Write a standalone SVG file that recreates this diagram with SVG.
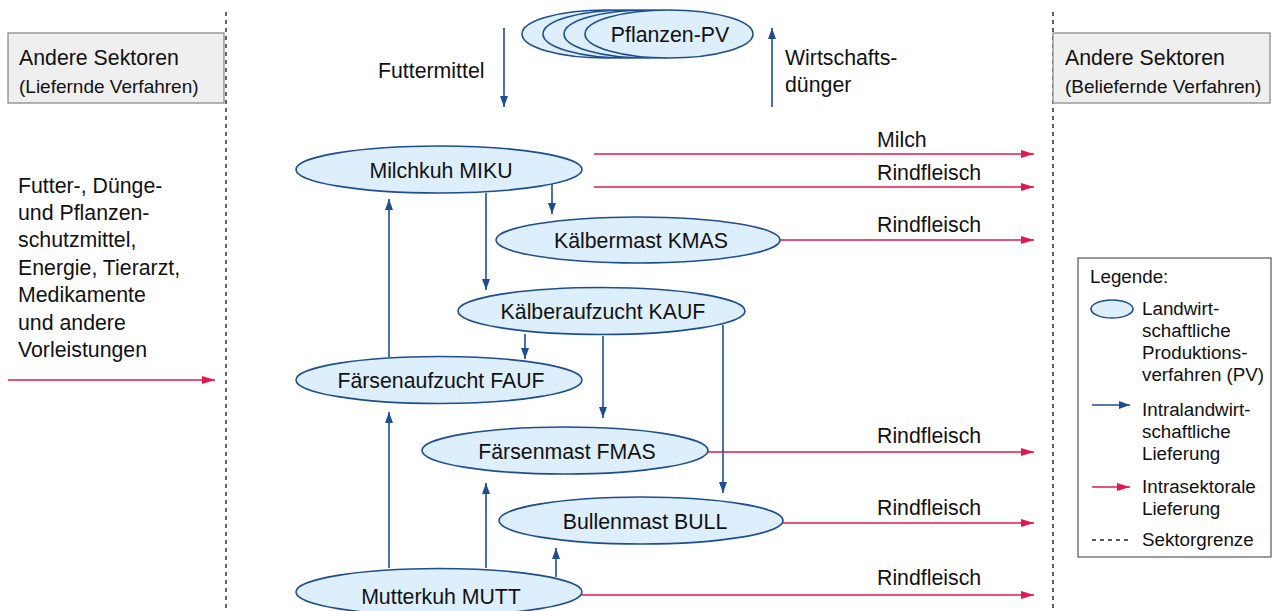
<svg xmlns="http://www.w3.org/2000/svg" width="1276" height="611" viewBox="0 0 1276 611">
<style>
text{font-family:"Liberation Sans",Arial,sans-serif;fill:#111;}
.t{font-size:21.3px;}
.s{font-size:19px;}
.l{font-size:18.8px;}
.el{fill:#ddeefc;stroke:#1f4e8e;stroke-width:1.6;}
.box{fill:#efefef;stroke:#8c8c8c;stroke-width:1.3;}
.blue{stroke:#1f4e8e;stroke-width:1.6;fill:none;}
.red{stroke:#e01a4c;stroke-width:1.6;fill:none;}
.sect{stroke:#222;stroke-width:1.4;stroke-dasharray:4 4;fill:none;}
</style>
<defs>
<marker id="ab" markerUnits="userSpaceOnUse" markerWidth="12" markerHeight="10" refX="11" refY="4" orient="auto">
<path d="M0,0 L11,4 L0,8 Z" fill="#1f4e8e"/>
</marker>
<marker id="ar" markerUnits="userSpaceOnUse" markerWidth="14" markerHeight="10" refX="13" refY="4" orient="auto">
<path d="M0,0 L13,4 L0,8 Z" fill="#e01a4c"/>
</marker>
</defs>
<rect width="1276" height="611" fill="#fff"/>
<g id="sector-lines">
<line class="sect" x1="226" y1="12" x2="226" y2="611"/>
<line class="sect" x1="1053" y1="12" x2="1053" y2="611"/>
</g>
<g id="left-box">
<rect class="box" x="8" y="33" width="216" height="70"/>
<text class="t" x="19" y="65">Andere Sektoren</text>
<text class="s" x="19" y="93">(Liefernde Verfahren)</text>
</g>
<g id="right-box">
<rect class="box" x="1053" y="33" width="217" height="70"/>
<text class="t" x="1065" y="65">Andere Sektoren</text>
<text class="s" x="1065" y="93">(Beliefernde Verfahren)</text>
</g>
<g id="inputs">
<text class="t" x="18" y="193">Futter-, Dünge-</text>
<text class="t" x="18" y="220">und Pflanzen-</text>
<text class="t" x="18" y="247">schutzmittel,</text>
<text class="t" x="18" y="275">Energie, Tierarzt,</text>
<text class="t" x="18" y="302">Medikamente</text>
<text class="t" x="18" y="330">und andere</text>
<text class="t" x="18" y="357">Vorleistungen</text>
</g>
<g id="pflanzen-pv">
<ellipse class="el" cx="606" cy="34" rx="84" ry="24"/>
<ellipse class="el" cx="627" cy="34" rx="84" ry="24"/>
<ellipse class="el" cx="648" cy="34" rx="84" ry="24"/>
<ellipse class="el" cx="669" cy="34" rx="84" ry="24"/>
<text class="t" x="670" y="42" text-anchor="middle">Pflanzen-PV</text>
</g>
<g id="labels">
<text class="t" x="378" y="78">Futtermittel</text>
<text class="t" x="785" y="65">Wirtschafts-</text>
<text class="t" x="785" y="92">dünger</text>
<text class="t" x="877" y="147">Milch</text>
<text class="t" x="877" y="180">Rindfleisch</text>
<text class="t" x="877" y="232">Rindfleisch</text>
<text class="t" x="877" y="443">Rindfleisch</text>
<text class="t" x="877" y="515">Rindfleisch</text>
<text class="t" x="877" y="585">Rindfleisch</text>
</g>
<g id="connectors">
<line class="red" x1="8" y1="380" x2="215" y2="380" marker-end="url(#ar)"/>
<line class="red" x1="594" y1="154" x2="1034" y2="154" marker-end="url(#ar)"/>
<line class="red" x1="594" y1="187" x2="1034" y2="187" marker-end="url(#ar)"/>
<line class="red" x1="780" y1="240" x2="1034" y2="240" marker-end="url(#ar)"/>
<line class="red" x1="708" y1="452" x2="1034" y2="452" marker-end="url(#ar)"/>
<line class="red" x1="783" y1="523" x2="1034" y2="523" marker-end="url(#ar)"/>
<line class="red" x1="582" y1="595" x2="1034" y2="595" marker-end="url(#ar)"/>
<line class="blue" x1="504" y1="28" x2="504" y2="107" marker-end="url(#ab)"/>
<line class="blue" x1="772" y1="107" x2="772" y2="28" marker-end="url(#ab)"/>
<line class="blue" x1="552" y1="184" x2="552" y2="214" marker-end="url(#ab)"/>
<line class="blue" x1="486" y1="193" x2="486" y2="290" marker-end="url(#ab)"/>
<line class="blue" x1="389" y1="357" x2="389" y2="199" marker-end="url(#ab)"/>
<line class="blue" x1="525" y1="334" x2="525" y2="359" marker-end="url(#ab)"/>
<line class="blue" x1="603" y1="336" x2="603" y2="418" marker-end="url(#ab)"/>
<line class="blue" x1="723" y1="325" x2="723" y2="493" marker-end="url(#ab)"/>
<line class="blue" x1="389" y1="568" x2="389" y2="412" marker-end="url(#ab)"/>
<line class="blue" x1="486" y1="568" x2="486" y2="483" marker-end="url(#ab)"/>
<line class="blue" x1="556" y1="577" x2="556" y2="548" marker-end="url(#ab)"/>
</g>
<g id="miku">
<ellipse class="el" cx="439" cy="169.5" rx="143" ry="23.5"/>
<text class="t" x="441" y="178" text-anchor="middle">Milchkuh MIKU</text>
</g>
<g id="kmas">
<ellipse class="el" cx="638" cy="240" rx="142" ry="23"/>
<text class="t" x="641" y="248" text-anchor="middle">Kälbermast KMAS</text>
</g>
<g id="kauf">
<ellipse class="el" cx="601.5" cy="311" rx="143.5" ry="23.5"/>
<text class="t" x="603" y="319" text-anchor="middle">Kälberaufzucht KAUF</text>
</g>
<g id="fauf">
<ellipse class="el" cx="439" cy="380" rx="143" ry="23.5"/>
<text class="t" x="441" y="388" text-anchor="middle">Färsenaufzucht FAUF</text>
</g>
<g id="fmas">
<ellipse class="el" cx="565" cy="450.5" rx="143" ry="23.5"/>
<text class="t" x="567" y="459" text-anchor="middle">Färsenmast FMAS</text>
</g>
<g id="bull">
<ellipse class="el" cx="641" cy="520.5" rx="142" ry="23.5"/>
<text class="t" x="645" y="529" text-anchor="middle">Bullenmast BULL</text>
</g>
<g id="mutt">
<ellipse class="el" cx="439" cy="592" rx="143" ry="23.5"/>
<text class="t" x="441" y="604" text-anchor="middle">Mutterkuh MUTT</text>
</g>
<g id="legend">
<rect x="1078" y="258" width="193" height="299" fill="#fff" stroke="#555" stroke-width="1.2"/>
<text class="l" x="1090" y="283">Legende:</text>
<ellipse class="el" cx="1112" cy="309" rx="21" ry="9"/>
<text class="l" x="1142" y="315">Landwirt-</text>
<text class="l" x="1142" y="337">schaftliche</text>
<text class="l" x="1142" y="359">Produktions-</text>
<text class="l" x="1142" y="381">verfahren (PV)</text>
<line class="blue" x1="1092" y1="405" x2="1130" y2="405" marker-end="url(#ab)"/>
<text class="l" x="1142" y="416">Intralandwirt-</text>
<text class="l" x="1142" y="438">schaftliche</text>
<text class="l" x="1142" y="460">Lieferung</text>
<line class="red" x1="1092" y1="487" x2="1130" y2="487" marker-end="url(#ar)"/>
<text class="l" x="1142" y="493">Intrasektorale</text>
<text class="l" x="1142" y="515">Lieferung</text>
<line class="sect" x1="1092" y1="540" x2="1128" y2="540"/>
<text class="l" x="1142" y="546">Sektorgrenze</text>
</g>
</svg>
